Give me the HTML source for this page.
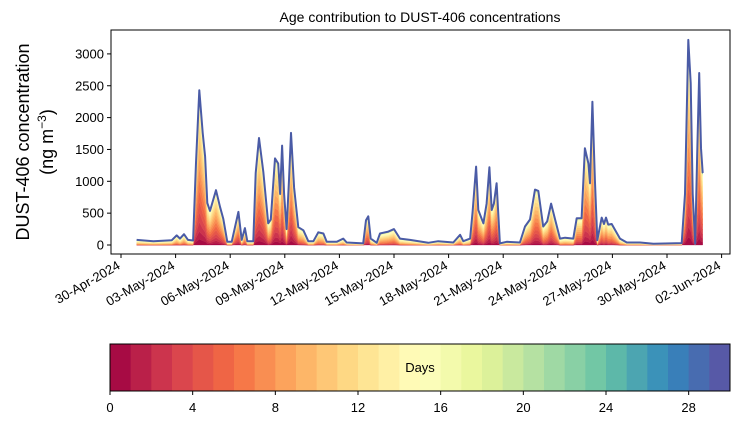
<!DOCTYPE html>
<html><head><meta charset="utf-8"><style>
body{margin:0;background:#fff;}
svg{display:block;font-family:"Liberation Sans","DejaVu Sans",sans-serif;}
</style></head><body>
<svg id="c" width="739" height="425" viewBox="0 0 739 425"></svg>
<script>
// data: days since 30-Apr-2024, total concentration
const days=[0.86,1.78,2.79,3.06,3.24,3.46,3.68,3.96,4.12,4.30,4.49,4.62,4.74,4.89,5.22,5.44,5.62,5.84,6.08,6.45,6.63,6.81,6.94,7.27,7.40,7.58,7.82,8.09,8.23,8.46,8.64,8.74,8.85,8.96,9.10,9.23,9.34,9.51,9.74,10.02,10.29,10.57,10.84,11.12,11.30,11.85,12.21,12.40,13.31,13.46,13.59,13.72,14.05,14.23,14.69,15.00,15.33,15.88,16.88,17.43,18.26,18.63,18.81,19.18,19.32,19.51,19.63,19.91,20.09,20.24,20.37,20.49,20.64,20.82,21.19,21.92,22.20,22.47,22.75,22.93,23.20,23.42,23.63,23.85,24.12,24.40,24.85,25.04,25.31,25.49,25.68,25.77,25.90,26.04,26.17,26.41,26.54,26.65,26.77,26.96,27.42,27.79,28.52,29.25,30.81,30.99,31.17,31.30,31.41,31.55,31.66,31.77,31.87,31.96];
const totals=[80,60,75,150,100,170,80,70,1290,2430,1760,1390,660,535,860,600,410,50,50,520,80,265,60,60,1130,1680,1150,340,400,1360,1280,800,1560,800,250,1020,1760,900,280,230,60,60,200,180,50,50,100,40,25,390,450,100,35,180,210,250,100,80,35,60,40,160,60,100,520,1230,550,340,650,1220,550,650,970,25,50,40,290,400,870,850,290,370,650,400,100,115,100,420,420,1520,1280,970,2250,1020,75,430,330,430,320,330,100,40,40,20,30,800,3220,2540,800,20,1430,2700,1520,1130];
const yTicks=[0,500,1000,1500,2000,2500,3000];
const xTickDays=[0,3,6,9,12,15,18,21,24,27,30,33];
const xTickLabels=["30-Apr-2024","03-May-2024","06-May-2024","09-May-2024","12-May-2024","15-May-2024","18-May-2024","21-May-2024","24-May-2024","27-May-2024","30-May-2024","02-Jun-2024"];
const cbTicks=[0,4,8,12,16,20,24,28];

const NS="http://www.w3.org/2000/svg",svg=document.getElementById('c');
function el(t,a,p){const e=document.createElementNS(NS,t);for(const k in a)e.setAttribute(k,a[k]);(p||svg).appendChild(e);return e;}
const X0=111,X1=730,Y0=30,Y1=254;
const xs=d=>121+d*18.2;
const ys=v=>245-v*0.0637;
const stops=["#9e0142","#d53e4f","#f46d43","#fdae61","#fee08b","#ffffbf","#e6f598","#abdda4","#66c2a5","#3288bd","#5e4fa2"];
function hx(c){return [1,3,5].map(i=>parseInt(c.substr(i,2),16));}
function spectral(t){const p=t*10,i=Math.min(9,Math.floor(p)),f=p-i,a=hx(stops[i]),b=hx(stops[i+1]);return "rgb("+a.map((v,j)=>Math.round(v+(b[j]-v)*f)).join(",")+")";}
const NB=30,cols=[];for(let k=0;k<NB;k++)cols.push(spectral((k+0.5)/NB));

// title
let t=el('text',{x:420,y:22,'text-anchor':'middle','font-size':14});t.textContent="Age contribution to DUST-406 concentrations";


// stacked areas
const frac=totals.map(v=>{const lo=9*Math.exp(-v/250),hi=14+4*Math.exp(-v/300);const w=[];let sum=0;
  for(let k=0;k<NB;k++){const x=1/(1+Math.exp((k-hi)/1.5))/(1+Math.exp((lo-k)/1.5))+0.012;w.push(x);sum+=x;}
  return w.map(x=>x/sum);});
const g=el('g',{});
let lower=totals.map(()=>0);
for(let k=0;k<NB;k++){
  const upper=lower.map((l,i)=>l+totals[i]*frac[i][k]);
  let pts=days.map((d,i)=>xs(d).toFixed(1)+","+ys(upper[i]).toFixed(1));
  for(let i=days.length-1;i>=0;i--)pts.push(xs(days[i]).toFixed(1)+","+ys(lower[i]).toFixed(1));
  const p=el('polygon',{points:pts.join(" "),fill:cols[k],stroke:cols[k],'stroke-width':0.3},g);
  
  lower=upper;
}
const line=el('polyline',{points:days.map((d,i)=>xs(d).toFixed(1)+","+ys(totals[i]).toFixed(1)).join(" "),fill:'none',stroke:'#4a5ba6','stroke-width':2,'stroke-linejoin':'round'});


// frame
const fr=el('rect',{x:X0,y:Y0,width:X1-X0,height:Y1-Y0,fill:'none',stroke:'#000','stroke-width':1});


// y ticks
yTicks.forEach(v=>{const y=ys(v);el('line',{x1:X0-4,x2:X0,y1:y,y2:y,stroke:'#000'});
 const tx=el('text',{x:X0-7,y:y+4.5,'text-anchor':'end','font-size':13});tx.textContent=v;
 });
// x ticks
xTickDays.forEach((d,i)=>{const x=xs(d);el('line',{x1:x,x2:x,y1:Y1,y2:Y1+4,stroke:'#000'});
 const tx=el('text',{x:x,y:Y1+14,'text-anchor':'end','font-size':13,transform:`rotate(-30 ${x} ${Y1+14})`});tx.textContent=xTickLabels[i];
 });

// y axis title
const yt=el('text',{x:0,y:0,'text-anchor':'middle','font-size':18,transform:'translate(29,142) rotate(-90)'});

const ts1=el('tspan',{x:0,y:0},yt);ts1.textContent="DUST-406 concentration";
const ts2=el('tspan',{x:0,y:24},yt);ts2.textContent="(ng m";
const ts3=el('tspan',{dy:-7,'font-size':12},yt);ts3.textContent="−3";
const ts4=el('tspan',{dy:7},yt);ts4.textContent=")";

// colorbar
const CB0=110,CB1=730,CBY=344,CBH=47,cw=(CB1-CB0)/NB;
const cg=el('g',{});
for(let k=0;k<NB;k++){el('rect',{x:CB0+k*cw,y:CBY,width:cw+0.5,height:CBH,fill:cols[k]},cg);}
el('rect',{x:CB0,y:CBY,width:CB1-CB0,height:CBH,fill:'none',stroke:'#000'},cg);
const dl=el('text',{x:420,y:372,'text-anchor':'middle','font-size':13});dl.textContent="Days";

cbTicks.forEach(v=>{const x=CB0+v*cw;el('line',{x1:x,x2:x,y1:CBY+CBH,y2:CBY+CBH+4,stroke:'#000'});
 const tx=el('text',{x:x,y:CBY+CBH+21,'text-anchor':'middle','font-size':13});tx.textContent=v;
 });
</script>
</body></html>
